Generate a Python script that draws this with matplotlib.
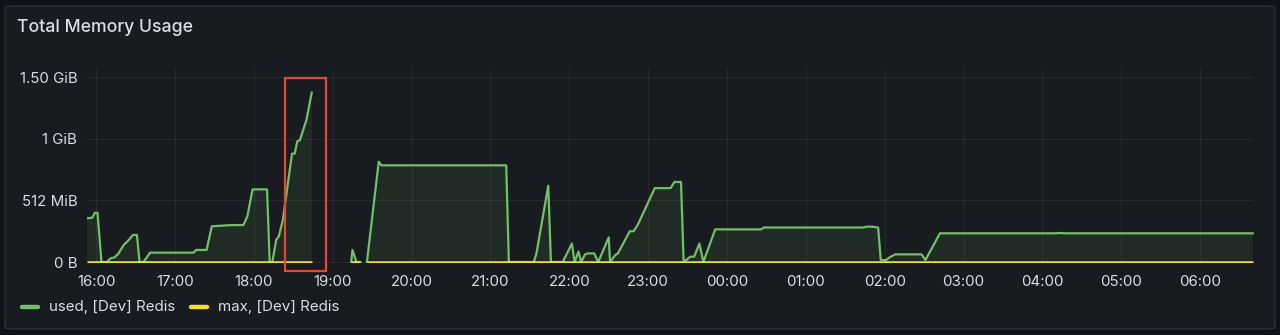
import numpy as np
import matplotlib
matplotlib.use("Agg")
import matplotlib.pyplot as plt
import matplotlib.dates as mdates
from matplotlib.patches import FancyBboxPatch, Rectangle
from matplotlib.lines import Line2D
from datetime import datetime, timedelta

plt.rcParams['font.family'] = ['Inter', 'DejaVu Sans']

# ---------------- data ----------------
title = "Total Memory Usage"
series_names = ["used, [Dev] Redis", "max, [Dev] Redis"]

# used memory (GiB); None marks a gap in the data
used_times = ["15:53", "15:57", "15:59", "16:01", "16:04", "16:08", "16:11", "16:14",
              "16:17", "16:21", "16:24", "16:28", "16:31", "16:33", "16:36", "16:41",
              "17:14", "17:16", "17:24", "17:28", "17:43", "17:52", "17:55", "17:59",
              "18:10", "18:12", "18:14", "18:17", "18:19", "18:22", "18:29", "18:31",
              "18:33", "18:35", "18:40", "18:44",
              "18:59",
              "19:14", "19:15", "19:18", "19:21",
              "19:23",
              "19:26", "19:35", "19:37", "21:12", "21:14", "21:33", "21:35", "21:44",
              "21:46", "21:55", "22:02", "22:04", "22:07", "22:09", "22:12", "22:14",
              "22:19", "22:22", "22:30", "22:31", "22:35", "22:37", "22:46", "22:49",
              "22:52", "23:05", "23:08", "23:17", "23:20", "23:25", "23:27", "23:32",
              "23:35", "23:39", "23:42", "23:51", "00:26", "00:28", "01:44", "01:46",
              "01:50", "01:55", "01:57", "02:01", "02:04", "02:08", "02:28", "02:31",
              "02:42", "04:10", "04:13", "04:17", "06:40"]
used_values = [0.355, 0.36, 0.40, 0.40, 0.0, 0.0, 0.03, 0.038,
               0.07, 0.14, 0.17, 0.22, 0.22, 0.0, 0.0, 0.076,
               0.076, 0.098, 0.098, 0.29, 0.30, 0.30, 0.37, 0.59,
               0.59, 0.0, 0.0, 0.18, 0.21, 0.34, 0.88, 0.88,
               0.98, 0.99, 1.155, 1.376,
               None,
               0.0, 0.098, 0.0, 0.0,
               None,
               0.0, 0.815, 0.785, 0.785, 0.0, 0.0, 0.07, 0.62,
               0.0, 0.0, 0.15, 0.0, 0.084, 0.0, 0.062, 0.07,
               0.07, 0.0, 0.20, 0.0, 0.057, 0.07, 0.25, 0.25,
               0.30, 0.60, 0.60, 0.60, 0.65, 0.65, 0.0, 0.043,
               0.043, 0.15, 0.0, 0.265, 0.265, 0.28, 0.28, 0.287,
               0.287, 0.28, 0.016, 0.016, 0.04, 0.062, 0.062, 0.016,
               0.233, 0.233, 0.236, 0.233, 0.233]

# max memory (GiB)
max_times = ["15:53", "18:44", "18:59", "19:14", "19:21", "19:23", "19:26", "06:40"]
max_values = [0.0, 0.0, None, 0.0, 0.0, None, 0.0, 0.0]

x_start, x_end = "15:53", "06:41"
y_ticks = [0.0, 0.5, 1.0, 1.5]
y_tick_labels = ["0 B", "512 MiB", "1 GiB", "1.50 GiB"]

# highlight box (annotation)
box_t0, box_t1 = "18:24", "18:55"
box_v0, box_v1 = -0.073, 1.496

# ---------------- helpers ----------------
base = datetime(2024, 1, 1)


def to_dt(s):
    h, m = map(int, s.split(":"))
    d = base + timedelta(hours=h, minutes=m)
    if h < 12:
        d += timedelta(days=1)
    return d


def to_arr(vals):
    return np.array([np.nan if v is None else v for v in vals], dtype=float)


ut = [to_dt(s) for s in used_times]
uv = to_arr(used_values)
mt = [to_dt(s) for s in max_times]
mv = to_arr(max_values)

GREEN = "#73BF69"
YELLOW = "#FADE2A"
TEXT = "#dcdce4"
PANEL = "#181b1f"
BG = "#111217"

W, H = 1280, 335
fig = plt.figure(figsize=(W / 100, H / 100), dpi=100, facecolor=BG)

panel = FancyBboxPatch((5 / W, 6 / H), 1270 / W, 323 / H,
                       boxstyle="round,pad=0,rounding_size=0.006",
                       transform=fig.transFigure, facecolor=PANEL,
                       edgecolor="#2c2f35", linewidth=1.0, zorder=-5)
fig.patches.append(panel)

fig.text(17 / W, 1 - 27 / H, title, color=TEXT, fontsize=12.7,
         fontweight="medium", ha="left", va="center")

ax_left, ax_right = 87, 1254
ax_top, ax_bot = 68, 263
ax = fig.add_axes([ax_left / W, 1 - ax_bot / H, (ax_right - ax_left) / W,
                   (ax_bot - ax_top) / H])
ax.set_zorder(2)
ax.set_facecolor("none")
for s in ax.spines.values():
    s.set_visible(False)

ax.set_xlim(to_dt(x_start), to_dt(x_end))
ax.set_ylim(-0.0081, 1.5756)

ax.fill_between(ut, uv, 0, where=~np.isnan(uv), color=GREEN, alpha=0.1,
                linewidth=0, interpolate=False)
ax.plot(ut, uv, color=GREEN, linewidth=1.6, solid_joinstyle="round", zorder=3)
ax.plot(mt, mv, color=YELLOW, linewidth=1.8, zorder=4, solid_capstyle="butt")

ax.set_yticks(y_ticks)
ax.set_yticklabels(y_tick_labels)
ax.xaxis.set_major_locator(mdates.HourLocator())
ax.xaxis.set_major_formatter(mdates.DateFormatter("%H:%M"))
ax.tick_params(axis="both", length=0, colors=TEXT, labelsize=10.8)
ax.tick_params(axis="y", pad=7)
ax.tick_params(axis="x", pad=9)
ax.grid(True, color="#ccccdc", alpha=0.08, linewidth=0.8)
ax.set_axisbelow(True)

# highlight rectangle
t0 = mdates.date2num(to_dt(box_t0))
t1 = mdates.date2num(to_dt(box_t1))
ax.add_patch(Rectangle((t0, box_v0), t1 - t0, box_v1 - box_v0, fill=False,
                       edgecolor="#E8462E", linewidth=1.6, clip_on=False, zorder=6))

# legend
ly = 1 - 307 / H
for (x0, x1, tx), col, name in zip([(22, 38, 49), (191, 207, 218)], [GREEN, YELLOW],
                                   series_names):
    fig.add_artist(Line2D([x0 / W, x1 / W], [ly, ly], color=col, linewidth=3.2,
                          solid_capstyle="round", transform=fig.transFigure))
    fig.text(tx / W, ly, name, color=TEXT, fontsize=10.9, ha="left", va="center")

fig.savefig("out.png", dpi=100, facecolor=BG)
